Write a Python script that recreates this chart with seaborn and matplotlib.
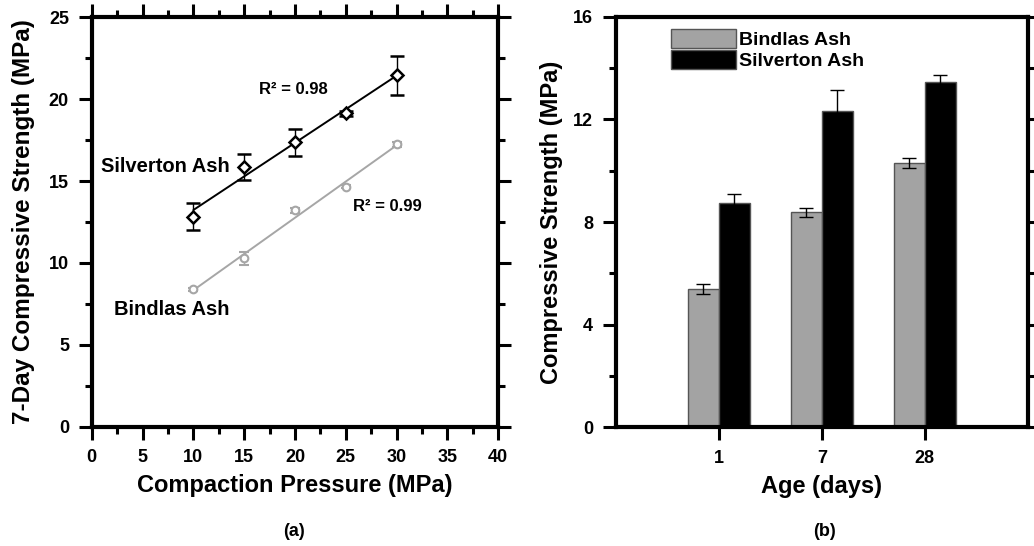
import matplotlib

matplotlib.use("Agg")
import matplotlib.pyplot as plt
from matplotlib.ticker import MultipleLocator
import numpy as np
import pandas as pd
import seaborn as sns


# (a) 7-day strength vs compaction pressure
PRESSURE = [10, 15, 20, 25, 30]
SILVERTON_7D = [12.83, 15.88, 17.37, 19.14, 21.46]
SILVERTON_7D_ERR = [0.82, 0.80, 0.81, 0.15, 1.18]
BINDLAS_7D = [8.38, 10.29, 13.21, 14.66, 17.26]
BINDLAS_7D_ERR = [0.10, 0.40, 0.15, 0.10, 0.15]

# (b) strength vs age
AGES = ["1", "7", "28"]
BINDLAS_AGE = [5.39, 8.38, 10.29]
BINDLAS_AGE_ERR = [0.18, 0.18, 0.20]
SILVERTON_AGE = [8.75, 12.33, 13.44]
SILVERTON_AGE_ERR = [0.34, 0.82, 0.29]

GRAY = "#a3a3a3"
LINE_GRAY = "#a6a6a6"

sns.set_theme(style="ticks")
plt.rcParams["font.family"] = ["Liberation Sans", "DejaVu Sans"]
plt.rcParams["font.weight"] = "bold"
plt.rcParams["axes.labelweight"] = "bold"
plt.rcParams["axes.linewidth"] = 3
for key in ["text.color", "axes.labelcolor", "xtick.color", "ytick.color",
            "axes.edgecolor"]:
    plt.rcParams[key] = "black"

fig = plt.figure(figsize=(10.34, 5.46), dpi=100)
ax1 = fig.add_axes([0.0887, 0.2185, 0.3932, 0.7498])
ax2 = fig.add_axes([0.5957, 0.2174, 0.3982, 0.752])


def style_ticks(ax, top=True):
    ax.tick_params(which="both", direction="out", width=2.2, labelsize=13,
                   right=True, top=top, pad=7, color="black",
                   labelcolor="black")
    ax.tick_params(which="major", length=9.4)
    ax.tick_params(which="minor", length=5)
    for lbl in ax.get_xticklabels() + ax.get_yticklabels():
        lbl.set_fontweight("bold")
    for sp in ax.spines.values():
        sp.set_linewidth(3)
        sp.set_color("black")


# ---- panel (a)
sns.regplot(x=PRESSURE, y=SILVERTON_7D, ax=ax1, scatter=False, ci=None,
            line_kws={"color": "black", "lw": 1.4})
sns.regplot(x=PRESSURE, y=BINDLAS_7D, ax=ax1, scatter=False, ci=None,
            line_kws={"color": LINE_GRAY, "lw": 1.4})
ax1.errorbar(PRESSURE, SILVERTON_7D, yerr=SILVERTON_7D_ERR, fmt="D", ms=6.5,
             mfc="white", mec="black", mew=1.8, ecolor="black", elinewidth=1,
             capsize=5, capthick=1, zorder=5)
ax1.errorbar(PRESSURE, BINDLAS_7D, yerr=BINDLAS_7D_ERR, fmt="o", ms=5.5,
             mfc="white", mec=LINE_GRAY, mew=1.5, ecolor=LINE_GRAY, elinewidth=1,
             capsize=3.5, capthick=1, zorder=5)

ax1.set_xlim(0, 40)
ax1.set_ylim(0, 25)
ax1.xaxis.set_major_locator(MultipleLocator(5))
ax1.xaxis.set_minor_locator(MultipleLocator(2.5))
ax1.yaxis.set_major_locator(MultipleLocator(5))
ax1.yaxis.set_minor_locator(MultipleLocator(2.5))
ax1.set_xlabel("Compaction Pressure (MPa)", fontsize=17, fontweight="bold")
ax1.set_ylabel("7-Day Compressive Strength (MPa)", fontsize=17.5,
               fontweight="bold")
ax1.xaxis.set_label_coords(0.5, -0.115)
ax1.yaxis.set_label_coords(-0.139, 0.5)
style_ticks(ax1, top=True)

ax1.text(7.25, 15.88, "Silverton Ash", fontsize=14.5, fontweight="bold",
         ha="center", va="center")
ax1.text(7.85, 7.14, "Bindlas Ash", fontsize=14.5, fontweight="bold",
         ha="center", va="center")
ax1.text(19.8, 20.57, "R² = 0.98", fontsize=12, fontweight="bold",
         ha="center", va="center")
ax1.text(29.1, 13.43, "R² = 0.99", fontsize=12, fontweight="bold",
         ha="center", va="center")

# ---- panel (b)
age_df = pd.DataFrame({
    "Age": AGES * 2,
    "Strength": BINDLAS_AGE + SILVERTON_AGE,
    "Ash": ["Bindlas Ash"] * len(AGES) + ["Silverton Ash"] * len(AGES),
})
sns.barplot(data=age_df, x="Age", y="Strength", hue="Ash", order=AGES,
            hue_order=["Bindlas Ash", "Silverton Ash"],
            palette={"Bindlas Ash": GRAY, "Silverton Ash": "black"},
            width=0.6, gap=0, errorbar=None, edgecolor="#555555",
            linewidth=1, ax=ax2, legend=True)

for container, err in zip(ax2.containers, [BINDLAS_AGE_ERR, SILVERTON_AGE_ERR]):
    xs = [p.get_x() + p.get_width() / 2 for p in container]
    ys = [p.get_height() for p in container]
    ax2.errorbar(xs, ys, yerr=err, fmt="none", ecolor="black", elinewidth=1,
                 capsize=5, capthick=1, zorder=5)

ax2.set_xlim(-1, 3)
ax2.set_ylim(0, 16)
ax2.yaxis.set_major_locator(MultipleLocator(4))
ax2.yaxis.set_minor_locator(MultipleLocator(2))
ax2.set_xlabel("Age (days)", fontsize=17, fontweight="bold")
ax2.set_ylabel("Compressive Strength (MPa)", fontsize=17, fontweight="bold")
ax2.xaxis.set_label_coords(0.5, -0.116)
ax2.yaxis.set_label_coords(-0.129, 0.5)
style_ticks(ax2, top=False)
ax2.tick_params(axis="x", which="minor", bottom=False)
ax2.tick_params(axis="y", which="both", right=True)

handles, labels = ax2.get_legend_handles_labels()
ax2.legend(handles, labels, loc="upper left", bbox_to_anchor=(0.1335, 0.969),
           frameon=False, handlelength=3.35, handleheight=1.08,
           handletextpad=0.17, labelspacing=0.05, borderpad=0, borderaxespad=0,
           prop={"weight": "bold", "size": 14})

fig.text(294 / 1034, 1 - 531 / 546, "(a)", fontsize=13, fontweight="bold",
         ha="center", va="center")
fig.text(824 / 1034, 1 - 531 / 546, "(b)", fontsize=13, fontweight="bold",
         ha="center", va="center")

fig.savefig("out.png", dpi=100)
